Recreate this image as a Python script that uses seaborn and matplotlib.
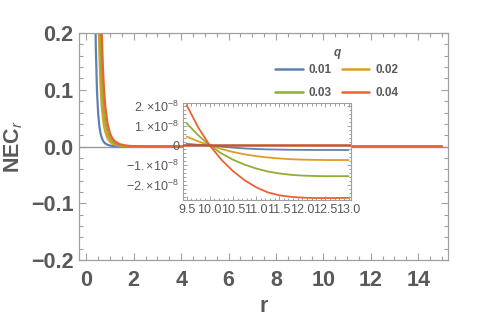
import numpy as np
import pandas as pd
import matplotlib
matplotlib.use('Agg')
import matplotlib.pyplot as plt
import seaborn as sns
from matplotlib.ticker import MultipleLocator

# data
q_labels = ['0.01', '0.02', '0.03', '0.04']
colors = ['#5E81B5', '#E19C24', '#8FB032', '#EB6235']

r_main = [0.3, 0.35, 0.4, 0.45, 0.5, 0.55, 0.6, 0.65, 0.7, 0.75, 0.8, 0.9, 1.0,
          1.1, 1.2, 1.4, 1.6, 1.8, 2.0, 2.5, 3.0, 4.0, 6.0, 10.0, 15.0]
nec_q1 = [0.74, 0.34, 0.176, 0.098, 0.058, 0.036, 0.023, 0.0156, 0.0107, 0.0076, 0.0055, 0.0031, 0.0018,
          0.0011, 0.0007, 0.0003, 0.00017, 0.0001, 0.00006, 0.00002, 0.0, 0.0, 0.0, 0.0, 0.0]
nec_q2 = [3.4, 1.6, 0.82, 0.45, 0.27, 0.166, 0.107, 0.072, 0.050, 0.035, 0.026, 0.014, 0.0084,
          0.0052, 0.0034, 0.0016, 0.0008, 0.00044, 0.00026, 0.00009, 0.00003, 0.0, 0.0, 0.0, 0.0]
nec_q3 = [5.9, 2.7, 1.4, 0.77, 0.46, 0.28, 0.184, 0.123, 0.085, 0.060, 0.044, 0.024, 0.0143,
          0.0089, 0.0057, 0.0027, 0.0014, 0.00076, 0.00045, 0.00015, 0.00006, 0.0, 0.0, 0.0, 0.0]
nec_q4 = [9.5, 4.4, 2.3, 1.25, 0.74, 0.46, 0.30, 0.20, 0.138, 0.098, 0.071, 0.039, 0.023,
          0.0144, 0.0093, 0.0043, 0.0022, 0.0012, 0.0007, 0.00024, 0.0001, 0.00002, 0.0, 0.0, 0.0]

# inset, in units of 1e-8
r_inset = [9.5, 9.75, 10.0, 10.25, 10.5, 10.75, 11.0, 11.25, 11.5, 11.75, 12.0, 12.25, 12.5, 12.75, 13.0]
ins_q1 = [0.08, 0.035, 0.0, -0.06, -0.11, -0.15, -0.18, -0.20, -0.21, -0.22, -0.225, -0.23, -0.23, -0.23, -0.23]
ins_q2 = [0.45, 0.21, 0.0, -0.18, -0.33, -0.45, -0.54, -0.61, -0.66, -0.70, -0.72, -0.73, -0.74, -0.74, -0.74]
ins_q3 = [1.13, 0.52, 0.0, -0.40, -0.72, -0.97, -1.17, -1.32, -1.42, -1.49, -1.53, -1.55, -1.56, -1.56, -1.56]
ins_q4 = [2.05, 0.92, 0.0, -0.72, -1.30, -1.76, -2.12, -2.38, -2.53, -2.61, -2.65, -2.67, -2.67, -2.67, -2.66]

main_df = pd.DataFrame({
    'r': r_main * 4,
    'NEC': nec_q1 + nec_q2 + nec_q3 + nec_q4,
    'q': [q for q in q_labels for _ in r_main],
})
ins_df = pd.DataFrame({
    'r': r_inset * 4,
    'NEC': [v * 1e-8 for v in ins_q1 + ins_q2 + ins_q3 + ins_q4],
    'q': [q for q in q_labels for _ in r_inset],
})

sns.set_style('ticks')
plt.rcParams['font.family'] = ['Liberation Sans', 'DejaVu Sans']
plt.rcParams['mathtext.fontset'] = 'custom'
plt.rcParams['mathtext.rm'] = 'Liberation Sans'
plt.rcParams['mathtext.it'] = 'Liberation Sans:italic'
plt.rcParams['mathtext.bf'] = 'Liberation Sans:bold'

frame_col = '#a0a0a0'
text_col = '#595959'

fig = plt.figure(figsize=(4.8, 3.2), dpi=100)
ax = fig.add_axes([0.165, 0.1875, 0.768, 0.709])

ax.axhline(0, color='#999999', lw=1.0, zorder=1)
sns.lineplot(data=main_df, x='r', y='NEC', hue='q', hue_order=q_labels, palette=colors,
             estimator=None, sort=False, lw=1.6, ax=ax)
ax.set_xlim(-0.3, 15.25)
ax.set_ylim(-0.2, 0.2)
ax.set_xticks(range(0, 15, 2))
ax.set_yticks([-0.2, -0.1, 0.0, 0.1, 0.2])
ax.set_yticklabels(['\u22120.2', '\u22120.1', '0.0', '0.1', '0.2'])
ax.xaxis.set_minor_locator(MultipleLocator(0.5))
ax.yaxis.set_minor_locator(MultipleLocator(0.02))
ax.tick_params(which='both', direction='in', top=True, right=True, color=frame_col,
               labelsize=15.5, labelcolor=text_col, width=0.8)
ax.tick_params(which='major', length=5)
ax.tick_params(axis='x', which='major', pad=7)
ax.tick_params(axis='y', which='major', pad=4)
ax.tick_params(which='minor', length=3)
for lab in ax.get_xticklabels() + ax.get_yticklabels():
    lab.set_fontweight('bold')
for sp in ax.spines.values():
    sp.set_color(frame_col)
    sp.set_linewidth(0.9)
ax.set_xlabel('r', fontsize=15.5, fontweight='bold', color=text_col, labelpad=4)
ax.set_ylabel(r'$\mathbf{NEC}_{\mathit{r}}$', fontsize=15.5, color=text_col, labelpad=4)

# legend laid out row by row: 0.01 0.02 / 0.03 0.04
handles, labels = ax.get_legend_handles_labels()
order = [0, 2, 1, 3]
leg = ax.legend([handles[i] for i in order], [labels[i] for i in order], ncol=2,
                frameon=False, loc='upper center', bbox_to_anchor=(0.699, 0.90),
                fontsize=8.5, handlelength=2.3, handletextpad=0.5, columnspacing=0.9,
                labelspacing=0.95, borderpad=0.2)
for t in leg.get_texts():
    t.set_fontweight('bold')
    t.set_color(text_col)
for h in leg.get_lines():
    h.set_linewidth(1.8)
ax.text(0.699, 0.885, 'q', transform=ax.transAxes, ha='center', va='bottom',
        fontsize=8.5, fontweight='bold', fontstyle='italic', color=text_col)

# inset
ins = fig.add_axes([0.382, 0.375, 0.349, 0.304])
sns.lineplot(data=ins_df, x='r', y='NEC', hue='q', hue_order=q_labels, palette=colors,
             estimator=None, sort=False, lw=1.3, ax=ins, legend=False)
ins.axhline(0, color='#C0552E', lw=1.8, zorder=5)
ins.set_xlim(9.43, 13.05)
ins.set_ylim(-2.77e-8, 2.17e-8)
ins.set_xticks([9.5, 10.0, 10.5, 11.0, 11.5, 12.0, 12.5, 13.0])
ins.set_xticklabels(['9.5', '10.0', '10.5', '11.0', '11.5', '12.0', '12.5', '13.0'])
ins.set_yticks([-2e-8, -1e-8, 0, 1e-8, 2e-8])
ins.set_yticklabels(['$\u22122.{\\times}10^{-8}$', '$\u22121.{\\times}10^{-8}$', '0',
                     '$1.{\\times}10^{-8}$', '$2.{\\times}10^{-8}$'])
ins.xaxis.set_minor_locator(MultipleLocator(0.1))
ins.yaxis.set_minor_locator(MultipleLocator(0.2e-8))
ins.tick_params(which='both', direction='in', top=True, right=True, color=frame_col,
                labelsize=9, labelcolor=text_col, width=0.7)
ins.tick_params(which='major', length=3, pad=3)
ins.tick_params(which='minor', length=1.8)
for sp in ins.spines.values():
    sp.set_color(frame_col)
    sp.set_linewidth(0.8)
ins.set_xlabel('')
ins.set_ylabel('')

fig.savefig('out.png', dpi=100)
